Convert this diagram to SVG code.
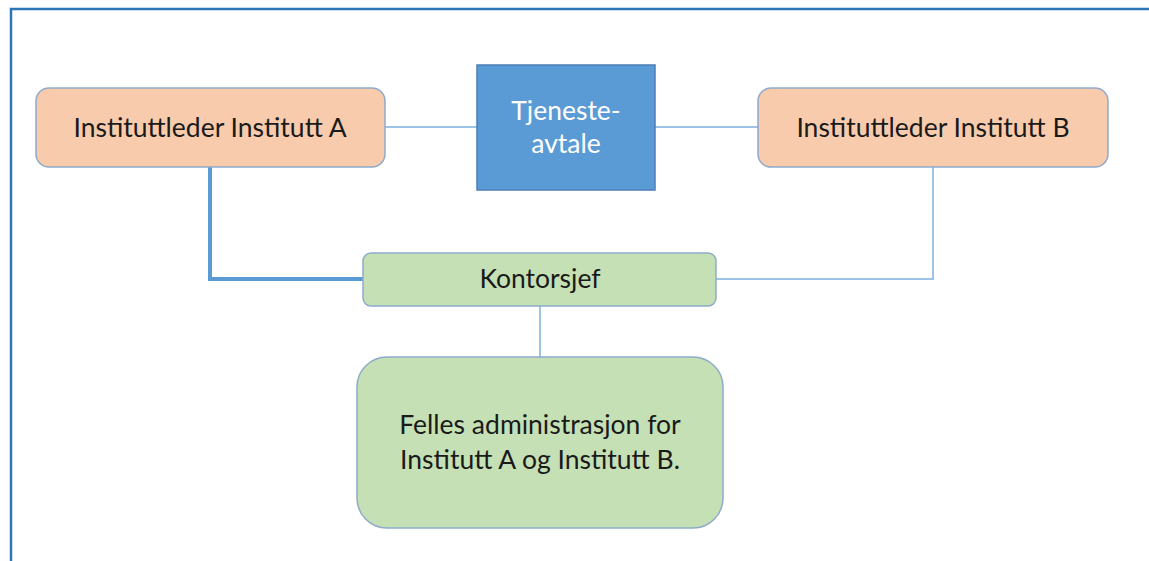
<svg xmlns="http://www.w3.org/2000/svg" width="1149" height="561" viewBox="0 0 1149 561">
<style>
.t{font-family:Lato,"Open Sans",sans-serif;font-size:26.5px;fill:#1a1a1a;text-anchor:middle}
.w{fill:#ffffff}
.org{fill:#F8CBAD;stroke:#8FAACB;stroke-width:1.5}
.grn{fill:#C5E0B4;stroke:#8FAACB;stroke-width:1.5}
.thin{fill:none;stroke:#9DC3E6;stroke-width:2}
.thick{fill:none;stroke:#5B9BD5;stroke-width:4}
</style>
<rect width="1149" height="561" fill="#ffffff"/>
<path d="M11 561 V9 H1149" fill="none" stroke="#2E75B6" stroke-width="2.5"/>
<g id="connectors">
<line class="thin" x1="385" y1="127" x2="477" y2="127"/>
<line class="thin" x1="655" y1="127" x2="758" y2="127"/>
<path class="thick" d="M210 167 V279 H363"/>
<path class="thin" d="M933 167 V279 H716"/>
<line class="thin" x1="540" y1="306" x2="540" y2="357"/>
</g>
<g id="nodeA">
<rect class="org" x="36" y="88" width="349" height="79" rx="13"/>
<text class="t" x="210" y="137">Instituttleder Institutt A</text>
</g>
<g id="tjeneste">
<rect x="477" y="65" width="178" height="125" fill="#5B9BD5" stroke="#4A7FB5" stroke-width="1.5"/>
<text class="t w" x="566" y="120">Tjeneste-</text>
<text class="t w" x="566" y="153">avtale</text>
</g>
<g id="nodeB">
<rect class="org" x="758" y="88" width="350" height="79" rx="13"/>
<text class="t" x="933" y="137">Instituttleder Institutt B</text>
</g>
<g id="kontorsjef">
<rect class="grn" x="363" y="253" width="353" height="53" rx="8"/>
<text class="t" x="540" y="288">Kontorsjef</text>
</g>
<g id="felles">
<rect class="grn" x="357" y="357" width="366" height="171" rx="30"/>
<text class="t" x="540" y="434">Felles administrasjon for</text>
<text class="t" x="540" y="469">Institutt A og Institutt B.</text>
</g>
</svg>
